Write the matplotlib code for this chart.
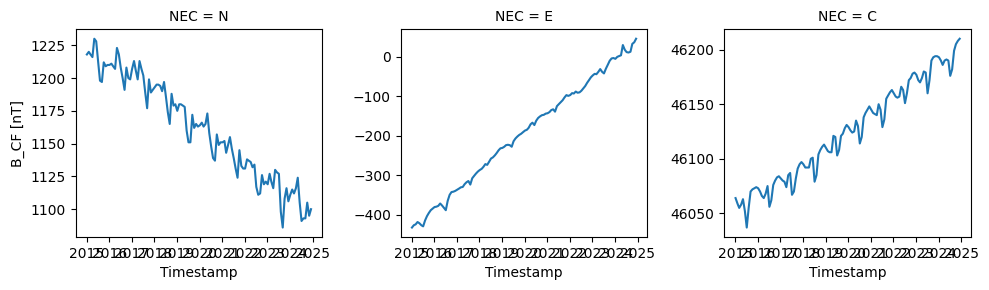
import numpy as np
import pandas as pd
import matplotlib
matplotlib.use("Agg")
import matplotlib.pyplot as plt
import matplotlib.dates as mdates

timestamps = pd.date_range("2015-01-01", periods=120, freq="MS") + pd.Timedelta(days=5)
components = ["N", "E", "C"]

b_n = [1218, 1220, 1218, 1216, 1230, 1228, 1213, 1198, 1197, 1212,
       1209, 1210, 1210, 1211, 1209, 1207, 1223, 1218, 1208, 1200,
       1191, 1208, 1200, 1199, 1207, 1213, 1206, 1199, 1213, 1207,
       1202, 1189, 1177, 1199, 1189, 1191, 1193, 1195, 1195, 1194,
       1190, 1197, 1186, 1174, 1165, 1188, 1179, 1180, 1175, 1180,
       1180, 1179, 1178, 1160, 1151, 1151, 1172, 1162, 1165, 1163,
       1164, 1166, 1163, 1165, 1173, 1158, 1148, 1139, 1137, 1157,
       1149, 1151, 1151, 1152, 1143, 1149, 1155, 1146, 1139, 1131,
       1124, 1145, 1133, 1131, 1131, 1138, 1137, 1136, 1132, 1134,
       1117, 1111, 1112, 1126, 1119, 1121, 1119, 1127, 1121, 1116,
       1130, 1128, 1127, 1098, 1086, 1108, 1116, 1106, 1111, 1115,
       1112, 1116, 1124, 1105, 1091, 1093, 1093, 1105, 1095, 1100]

b_e = [-433, -427, -425, -419, -422, -427, -430, -415, -404, -396,
       -389, -385, -381, -380, -378, -372, -377, -383, -389, -365,
       -350, -343, -342, -340, -337, -334, -331, -330, -323, -318,
       -315, -324, -308, -302, -296, -291, -287, -284, -279, -272,
       -274, -266, -258, -255, -250, -244, -237, -232, -231, -228,
       -224, -223, -224, -228, -214, -207, -202, -198, -195, -191,
       -187, -185, -180, -171, -167, -173, -162, -155, -151, -148,
       -147, -144, -143, -140, -135, -133, -139, -125, -120, -115,
       -110, -103, -97, -99, -97, -92, -93, -88, -91, -90,
       -86, -80, -74, -66, -59, -52, -47, -43, -44, -38,
       -31, -38, -42, -30, -20, -10, -4, -3, -5, 0,
       2, 4, 30, 18, 12, 11, 13, 33, 37, 46]

b_c = [46064, 46059, 46055, 46058, 46063, 46052, 46037, 46055, 46070, 46072,
       46073, 46074, 46073, 46070, 46066, 46064, 46068, 46075, 46056, 46062,
       46076, 46080, 46083, 46084, 46082, 46080, 46079, 46074, 46085, 46087,
       46067, 46070, 46082, 46091, 46095, 46097, 46095, 46092, 46092, 46092,
       46100, 46101, 46079, 46085, 46104, 46108, 46111, 46113, 46110, 46107,
       46106, 46106, 46121, 46120, 46103, 46108, 46121, 46123, 46128, 46131,
       46129, 46126, 46124, 46125, 46135, 46130, 46114, 46120, 46138, 46142,
       46145, 46148, 46145, 46142, 46141, 46140, 46150, 46145, 46129, 46136,
       46155, 46158, 46161, 46163, 46160, 46157, 46156, 46157, 46166, 46163,
       46151, 46160, 46172, 46174, 46178, 46179, 46177, 46172, 46170, 46174,
       46180, 46179, 46160, 46172, 46190, 46193, 46194, 46194, 46193, 46190,
       46186, 46190, 46191, 46190, 46176, 46182, 46199, 46205, 46208, 46210]

series = [b_n, b_e, b_c]

fig = plt.figure(figsize=(9.89, 2.9), dpi=100)
lefts = [0.0765, 0.4052, 0.7324]
for left, comp, vals in zip(lefts, components, series):
    ax = fig.add_axes([left, 0.1828, 0.2493, 0.7162])
    ax.plot(timestamps, vals, color="#1f77b4", linewidth=1.5)
    ax.set_title(f"NEC = {comp}", fontsize=10)
    ax.set_xlabel("Timestamp")
    ax.xaxis.set_major_locator(mdates.YearLocator())
    ax.xaxis.set_major_formatter(mdates.DateFormatter("%Y"))
    if comp == "N":
        ax.set_ylabel("B_CF [nT]")

fig.savefig("out.png", dpi=100)
